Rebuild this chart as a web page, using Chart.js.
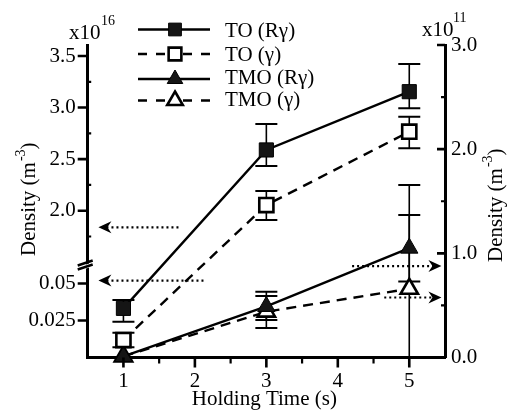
<!DOCTYPE html>
<html><head><meta charset="utf-8">
<script src="https://cdn.jsdelivr.net/npm/chart.js@4/dist/chart.umd.min.js"></script>
<style>html,body{margin:0;padding:0;background:#fff}#wrap{width:512px;height:417px}</style>
</head><body><div id="wrap"><canvas id="c" width="512" height="417"></canvas></div>
<script>
// ---------------- data ----------------
const holdingTimes = [1, 3, 5];
const seriesNames = ['TO (Rγ)', 'TO (γ)', 'TMO (Rγ)', 'TMO (γ)'];
// TO series: left (broken) axis, x10^16 m^-3
const toRg      = [0.0332, 2.589, 3.154];
const toRgLow   = [0.0242, 2.433, 2.993];
const toRgHigh  = [0.0389, 2.841, 3.422];
const toG       = [0.0118, 2.055, 2.766];
const toGLow    = [0.0069, 1.910, 2.605];
const toGHigh   = [0.0168, 2.191, 2.911];
// TMO series: right axis, x10^11 m^-3
const tmoRg     = [0.01, 0.49, 1.05];
const tmoRgLow  = [0.01, 0.36, 0.73];
const tmoRgHigh = [0.01, 0.632, 1.368];
const tmoG      = [0.01, 0.44, 0.66];
const tmoGLow   = [0.01, 0.283, 0.0];
const tmoGHigh  = [0.01, 0.59, 1.656];
// ticks
const xTicks = [1, 2, 3, 4, 5];
const xMinorTicks = [1.5, 2.5, 3.5, 4.5];
const leftTicks = [0.025, 0.05, 2.0, 2.5, 3.0, 3.5];
const leftMinorTicks = [1.75, 2.25, 2.75, 3.25];
const rightTicks = [0, 1, 2, 3];
const rightMinorTicks = [0.5, 1.5, 2.5];
// dotted arrows (value on axis, axis id, x start, x tip)
const arrowY     = [1.839, 0.052, 0.878, 0.576];
const arrowAxis  = ['yL', 'yL', 'yR', 'yR'];
const arrowFromX = [1.77, 2.12, 4.2, 4.65];
const arrowToX   = [0.65, 0.65, 5.45, 5.45];

// ---------------- broken scale ----------------
const LinearBase = Chart.LinearScale || Chart.registry.getScale('linear');
class BrokenScale extends LinearBase {
  determineDataLimits() { this.min = this.options.min; this.max = this.options.max; }
  buildTicks() { return (this.options.tickValues || []).map(v => ({value: v})); }
  getPixelForValue(v) {
    const o = this.options, b = this.bottom, h = this.bottom - this.top, f = o.breakFraction;
    if (v <= o.breakLow) return b - (v - this.min) / (o.breakLow - this.min) * f * h;
    if (v >= o.breakHigh) return b - f * h - (v - o.breakHigh) / (this.max - o.breakHigh) * (1 - f) * h;
    return b - f * h;
  }
  getValueForPixel(p) {
    const o = this.options, b = this.bottom, h = this.bottom - this.top, f = o.breakFraction;
    const d = (b - p) / h;
    if (d <= f) return this.min + d / f * (o.breakLow - this.min);
    return o.breakHigh + (d - f) / (1 - f) * (this.max - o.breakHigh);
  }
}
BrokenScale.id = 'broken';
BrokenScale.defaults = {};
Chart.register(BrokenScale);

Chart.defaults.font.family = "'Liberation Serif', 'Times New Roman', serif";
Chart.defaults.color = '#000';

const SERIF = "'Liberation Serif', 'Times New Roman', serif";
const seriesValues = [toRg, toG, tmoRg, tmoG];
const seriesLow = [toRgLow, toGLow, tmoRgLow, tmoGLow];
const seriesHigh = [toRgHigh, toGHigh, tmoRgHigh, tmoGHigh];
const seriesAxis = ['yL', 'yL', 'yR', 'yR'];

function makeDataset(i) {
  const filled = (i % 2 === 0);
  const tri = i >= 2;
  return {
    label: seriesNames[i],
    data: holdingTimes.map((x, j) => ({x: x, y: seriesValues[i][j]})),
    yAxisID: seriesAxis[i],
    borderColor: '#000',
    borderWidth: 2.4,
    borderDash: filled ? [] : [10, 7],
    pointStyle: tri ? 'triangle' : 'rect',
    pointRadius: 10,
    pointBorderWidth: filled ? 1 : 2.6,
    pointBackgroundColor: filled ? '#151515' : '#fff',
    pointBorderColor: '#000',
    fill: false,
    tension: 0,
    clip: false
  };
}

const axisFont = {family: SERIF, size: 21};

const decor = {
  id: 'decor',
  beforeDatasetsDraw(chart) {
    const ctx = chart.ctx, xs = chart.scales.x;
    ctx.save();
    ctx.strokeStyle = '#000';
    for (let i = 0; i < 4; i++) {
      const ys = chart.scales[seriesAxis[i]];
      holdingTimes.forEach((xv, j) => {
        const px = xs.getPixelForValue(xv);
        const pl = ys.getPixelForValue(seriesLow[i][j]);
        const ph = ys.getPixelForValue(seriesHigh[i][j]);
        if (Math.abs(pl - ph) < 3) return;
        ctx.lineWidth = 1.6;
        ctx.beginPath(); ctx.moveTo(px, pl); ctx.lineTo(px, ph); ctx.stroke();
        ctx.lineWidth = 2;
        ctx.beginPath();
        ctx.moveTo(px - 11, ph); ctx.lineTo(px + 11, ph);
        ctx.moveTo(px - 11, pl); ctx.lineTo(px + 11, pl);
        ctx.stroke();
      });
    }
    ctx.restore();
  },
  afterDraw(chart) {
    const ctx = chart.ctx, xs = chart.scales.x, yL = chart.scales.yL, yR = chart.scales.yR;
    const a = chart.chartArea;
    ctx.save();
    ctx.strokeStyle = '#000'; ctx.fillStyle = '#000';
    // tick marks
    ctx.lineWidth = 2.6;
    ctx.beginPath();
    leftTicks.forEach(v => { const y = yL.getPixelForValue(v); ctx.moveTo(a.left - 10, y); ctx.lineTo(a.left, y); });
    rightTicks.forEach(v => { const y = yR.getPixelForValue(v); ctx.moveTo(a.right - 8, y); ctx.lineTo(a.right, y); });
    xTicks.forEach(v => { const x = xs.getPixelForValue(v); ctx.moveTo(x, a.bottom); ctx.lineTo(x, a.bottom + 10); });
    ctx.stroke();
    ctx.lineWidth = 2.2;
    ctx.beginPath();
    leftMinorTicks.forEach(v => { const y = yL.getPixelForValue(v); ctx.moveTo(a.left, y); ctx.lineTo(a.left + 3.5, y); });
    rightMinorTicks.forEach(v => { const y = yR.getPixelForValue(v); ctx.moveTo(a.right - 4, y); ctx.lineTo(a.right, y); });
    xMinorTicks.forEach(v => { const x = xs.getPixelForValue(v); ctx.moveTo(x, a.bottom); ctx.lineTo(x, a.bottom + 6); });
    ctx.stroke();

    // axis break
    const yb = yL.getPixelForValue(yL.options.breakLow);
    ctx.fillStyle = '#fff';
    ctx.beginPath();
    ctx.moveTo(a.left - 6, yb + 1); ctx.lineTo(a.left + 6, yb - 3);
    ctx.lineTo(a.left + 6, yb + 1); ctx.lineTo(a.left - 6, yb + 5); ctx.closePath(); ctx.fill();
    ctx.fillStyle = '#000';
    ctx.lineWidth = 2.4;
    ctx.beginPath();
    ctx.moveTo(a.left - 10, yb + 0.5); ctx.lineTo(a.left + 5, yb - 4.5);
    ctx.moveTo(a.left - 10, yb + 4.5); ctx.lineTo(a.left + 5, yb - 0.5);
    ctx.stroke();

    // dotted arrows
    for (let i = 0; i < arrowY.length; i++) {
      const ys = chart.scales[arrowAxis[i]];
      const y = ys.getPixelForValue(arrowY[i]);
      const x0 = xs.getPixelForValue(arrowFromX[i]);
      const x1 = xs.getPixelForValue(arrowToX[i]);
      const dir = x1 < x0 ? -1 : 1;
      ctx.lineWidth = 2.2;
      ctx.setLineDash([2, 3]);
      ctx.beginPath(); ctx.moveTo(x0, y); ctx.lineTo(x1 - dir * 8, y); ctx.stroke();
      ctx.setLineDash([]);
      ctx.beginPath();
      ctx.moveTo(x1, y);
      ctx.lineTo(x1 - dir * 13, y - 6);
      ctx.lineTo(x1 - dir * 9, y);
      ctx.lineTo(x1 - dir * 13, y + 6);
      ctx.closePath(); ctx.fill();
    }

    // legend
    const rowsY = [29.5, 54, 79, 100.5];
    const lx0 = 138, lx1 = 210, lm = 175;
    chart.data.datasets.forEach((ds, i) => {
      const y = rowsY[i];
      ctx.lineWidth = 2.4;
      ctx.strokeStyle = '#000';
      if (ds.borderDash.length) {
        ctx.setLineDash([9, 9]);
        ctx.beginPath(); ctx.moveTo(lx0, y); ctx.lineTo(lm - 7, y); ctx.stroke();
        ctx.beginPath(); ctx.moveTo(lm + 8, y); ctx.lineTo(lx1, y); ctx.stroke();
        ctx.setLineDash([]);
      } else {
        ctx.beginPath(); ctx.moveTo(lx0, y); ctx.lineTo(lx1, y); ctx.stroke();
      }
      ctx.fillStyle = ds.pointBackgroundColor;
      ctx.strokeStyle = ds.pointBorderColor;
      ctx.lineWidth = ds.pointBorderWidth;
      Chart.helpers.drawPoint(ctx, {pointStyle: ds.pointStyle, radius: 9, rotation: 0, borderWidth: ds.pointBorderWidth}, lm, y);
      ctx.fillStyle = '#000';
      ctx.font = '21px ' + SERIF;
      ctx.textAlign = 'left'; ctx.textBaseline = 'alphabetic';
      ctx.fillText(ds.label, 225, (i < 2 ? rowsY[i] : rowsY[i] - 2) + 7);
    });

    // exponents
    ctx.fillStyle = '#000';
    ctx.textAlign = 'left'; ctx.textBaseline = 'alphabetic';
    ctx.font = '21px ' + SERIF; ctx.fillText('x10', 69, 38.5);
    ctx.font = '14px ' + SERIF; ctx.fillText('16', 101, 25);
    ctx.font = '21px ' + SERIF; ctx.fillText('x10', 422, 35.5);
    ctx.font = '14px ' + SERIF; ctx.fillText('11', 453, 22);

    // x title
    ctx.font = '21px ' + SERIF; ctx.textAlign = 'center';
    ctx.fillText('Holding Time (s)', (a.left + a.right) / 2 - 2, 405);

    // y titles
    function yTitle(bx, by) {
      ctx.save();
      ctx.translate(bx, by); ctx.rotate(-Math.PI / 2);
      ctx.textAlign = 'left'; ctx.textBaseline = 'alphabetic';
      ctx.font = '21px ' + SERIF;
      const t1 = 'Density (m';
      ctx.fillText(t1, 0, 0);
      let w = ctx.measureText(t1).width;
      ctx.font = '14px ' + SERIF;
      ctx.fillText('-3', w + 1, -10);
      w += ctx.measureText('-3').width + 1;
      ctx.font = '21px ' + SERIF;
      ctx.fillText(')', w, 0);
      ctx.restore();
    }
    yTitle(35, 256);
    yTitle(502, 262);
    ctx.restore();
  }
};

new Chart(document.getElementById('c'), {
  type: 'line',
  data: {datasets: [0, 1, 2, 3].map(makeDataset)},
  options: {
    responsive: false,
    animation: false,
    devicePixelRatio: 1,
    layout: {padding: {top: 45, left: 0, right: 0, bottom: 0}},
    plugins: {legend: {display: false}, tooltip: {enabled: false}, title: {display: false}},
    scales: {
      x: {
        type: 'linear', position: 'bottom', min: 0.5, max: 5.5,
        afterBuildTicks: s => { s.ticks = xTicks.map(v => ({value: v})); },
        ticks: {font: axisFont, color: '#000', padding: 11, maxRotation: 0, autoSkip: false, callback: v => String(v)},
        grid: {display: false, drawTicks: false},
        border: {display: true, width: 3, color: '#000'},
        afterFit: s => { s.height = 59.5; }
      },
      yL: {
        type: 'broken', position: 'left', min: 0, max: 3.6067,
        breakLow: 0.0625, breakHigh: 1.4734, breakFraction: 0.296,
        tickValues: leftTicks,
        ticks: {font: axisFont, color: '#000', padding: 12, autoSkip: false,
                callback: v => v < 1 ? String(v) : v.toFixed(1)},
        grid: {display: false, drawTicks: false},
        border: {display: true, width: 3, color: '#000'},
        afterFit: s => { s.width = 87.7; }
      },
      yR: {
        type: 'linear', position: 'right', min: 0, max: 3,
        afterBuildTicks: s => { s.ticks = rightTicks.map(v => ({value: v})); },
        ticks: {font: axisFont, color: '#000', padding: 6, autoSkip: false, callback: v => v.toFixed(1)},
        grid: {display: false, drawTicks: false},
        border: {display: true, width: 3, color: '#000'},
        afterFit: s => { s.width = 67; }
      }
    }
  },
  plugins: [decor]
});
</script>
</body></html>
